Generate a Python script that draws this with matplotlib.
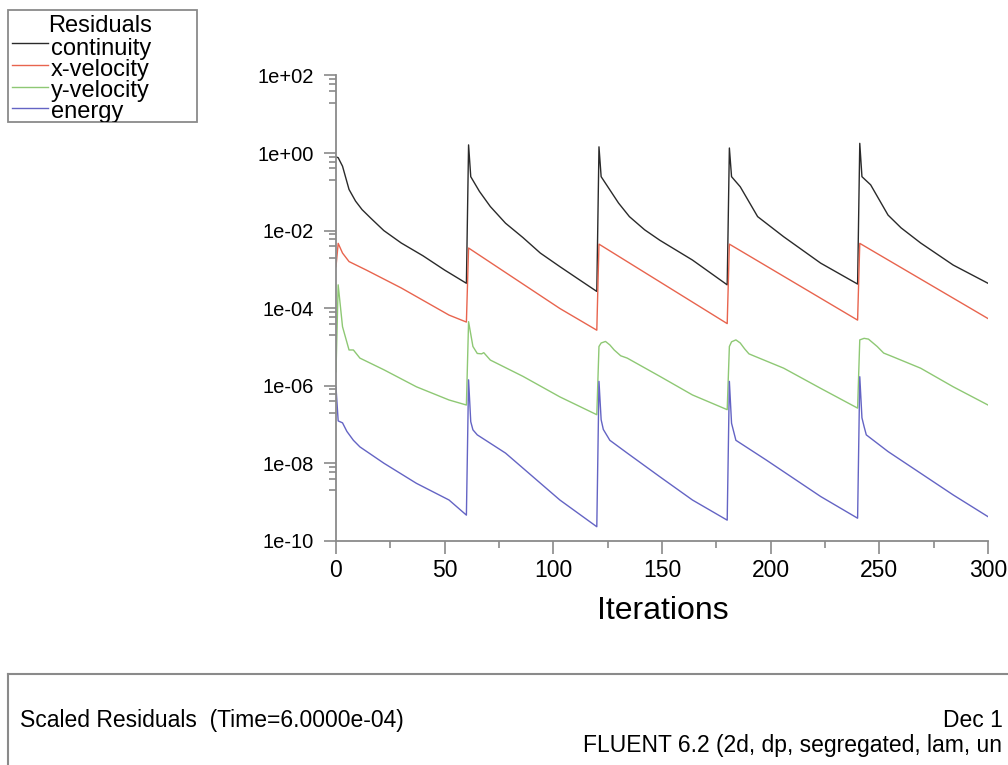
import numpy as np
import matplotlib
matplotlib.use("Agg")
import matplotlib.pyplot as plt
from matplotlib.patches import Rectangle
from matplotlib.lines import Line2D
from matplotlib.ticker import FixedLocator, NullFormatter

plt.rcParams['font.family'] = ['Liberation Sans', 'DejaVu Sans']

# residual histories, values are log10 of the scaled residual
cont_iter = [0, 1, 3, 6, 9, 12, 16, 22, 30, 40, 50, 60,
             61, 62, 66, 71, 78, 86, 94, 103, 112, 120,
             121, 122, 126, 130, 135, 142, 149, 164, 180,
             181, 182, 186, 194, 206, 223, 240,
             241, 242, 246, 254, 260, 269, 284, 300]
cont_exp = [-0.10, -0.12, -0.34, -0.94, -1.24, -1.46, -1.68, -2.00, -2.32, -2.65, -3.02, -3.36,
            0.21, -0.61, -0.99, -1.38, -1.81, -2.18, -2.58, -2.93, -3.27, -3.57,
            0.16, -0.61, -0.95, -1.29, -1.64, -1.98, -2.25, -2.76, -3.40,
            0.13, -0.61, -0.87, -1.64, -2.16, -2.84, -3.38,
            0.25, -0.61, -0.82, -1.60, -1.93, -2.32, -2.89, -3.36]

xvel_iter = [0, 1, 3, 6, 14, 30, 52, 60,
             61, 103, 120,
             121, 180,
             181, 240,
             241, 300]
xvel_exp = [-2.93, -2.33, -2.58, -2.80, -3.02, -3.48, -4.18, -4.36,
            -2.45, -4.01, -4.57,
            -2.35, -4.40,
            -2.35, -4.31,
            -2.33, -4.27]

yvel_iter = [0, 1, 3, 6, 8, 11, 22, 37, 52, 60,
             61, 63, 65, 67, 68, 71, 86, 103, 120,
             121, 122, 124, 126, 128, 131, 134, 149, 164, 180,
             181, 182, 184, 186, 188, 190, 193, 206, 223, 240,
             241, 243, 245, 249, 252, 256, 269, 284, 300]
yvel_exp = [-5.64, -3.40, -4.48, -5.08, -5.08, -5.29, -5.59, -6.03, -6.37, -6.50,
            -4.35, -4.99, -5.17, -5.18, -5.15, -5.34, -5.76, -6.29, -6.75,
            -4.99, -4.90, -4.86, -4.95, -5.08, -5.23, -5.29, -5.76, -6.24, -6.62,
            -4.99, -4.87, -4.82, -4.90, -5.05, -5.18, -5.25, -5.55, -6.07, -6.58,
            -4.82, -4.78, -4.80, -4.99, -5.16, -5.25, -5.55, -6.03, -6.50]

energy_iter = [0, 1, 3, 5, 8, 11, 22, 37, 52, 60,
               61, 62, 63, 65, 78, 103, 120,
               121, 122, 123, 126, 134, 149, 164, 180,
               181, 182, 184, 198, 223, 240,
               241, 242, 243, 244, 254, 269, 284, 300]
energy_exp = [-6.04, -6.91, -6.96, -7.18, -7.41, -7.58, -8.00, -8.52, -8.95, -9.34,
              -5.85, -6.93, -7.14, -7.27, -7.74, -8.95, -9.64,
              -5.89, -6.88, -7.13, -7.41, -7.74, -8.35, -8.95, -9.47,
              -5.89, -6.97, -7.41, -7.92, -8.86, -9.42,
              -5.77, -6.83, -7.06, -7.27, -7.70, -8.26, -8.82, -9.38]

series_names = ['continuity', 'x-velocity', 'y-velocity', 'energy']
series_colors = ['#2a2a2a', '#e8644e', '#8ec874', '#6464c4']

ytick_exps = [2, 0, -2, -4, -6, -8, -10]
ytick_labels = ['1e+02', '1e+00', '1e-02', '1e-04', '1e-06', '1e-08', '1e-10']
xticks = [0, 50, 100, 150, 200, 250, 300]

W, H = 1008, 765
GRAY = '#8a8a8a'

def fx(px):
    return px / W

def fy(py):
    return 1 - py / H

fig = plt.figure(figsize=(W / 100, H / 100), dpi=100)
fig.patch.set_facecolor('white')

ax = fig.add_axes([fx(336), fy(540.7), fx(988 - 336), (540.7 - 75.5) / H])
data = [(cont_iter, cont_exp), (xvel_iter, xvel_exp),
        (yvel_iter, yvel_exp), (energy_iter, energy_exp)]
for (it, ex), c in zip(data, series_colors):
    ax.plot(it, 10.0 ** np.array(ex), color=c, lw=1.0)

ax.set_yscale('log')
ax.set_xlim(0, 300)
ax.set_ylim(1e-10, 1e2)
ax.set_yticks([10.0 ** e for e in ytick_exps])
ax.set_yticklabels(ytick_labels)
minor_y = [m * 10.0 ** (e - 1) for e in ytick_exps[:-1] for m in (2, 4, 6, 8)]
ax.yaxis.set_minor_locator(FixedLocator(minor_y))
ax.yaxis.set_minor_formatter(NullFormatter())
ax.set_xticks(xticks)
ax.xaxis.set_minor_locator(FixedLocator([25, 75, 125, 175, 225, 275]))

for s in ['top', 'right']:
    ax.spines[s].set_visible(False)
for s in ['left', 'bottom']:
    ax.spines[s].set_color(GRAY)
    ax.spines[s].set_linewidth(1.3)

ax.tick_params(which='both', direction='out', color=GRAY, width=1.2)
ax.tick_params(which='major', length=9)
ax.tick_params(which='minor', length=5)
ax.tick_params(axis='y', which='major', labelsize=14.5, pad=7)
ax.tick_params(axis='x', which='major', labelsize=16.5, pad=4)

fig.text(fx(663), fy(619), 'Iterations', fontsize=23, ha='center', va='baseline')

# legend box
leg = Rectangle((fx(8), fy(122)), fx(197 - 8), (122 - 10) / H,
                transform=fig.transFigure, fill=False, ec=GRAY, lw=1.3)
fig.add_artist(leg)
fig.text(fx(48), fy(32), 'Residuals', fontsize=17, va='baseline')
line_y = [42.7, 65, 87, 108]
text_y = [55, 76, 97, 118]
for name, c, ly, ty in zip(series_names, series_colors, line_y, text_y):
    fig.add_artist(Line2D([fx(12), fx(48)], [fy(ly), fy(ly)],
                          transform=fig.transFigure, color=c, lw=1.0))
    t = fig.text(fx(51), fy(ty), name, fontsize=17, va='baseline')
    t.set_clip_path(leg)

# footer box
fig.add_artist(Line2D([fx(8), fx(8)], [fy(674), 0], transform=fig.transFigure,
                      color=GRAY, lw=1.5))
fig.add_artist(Line2D([fx(8), 1], [fy(674), fy(674)], transform=fig.transFigure,
                      color=GRAY, lw=1.5))
fig.text(fx(20), fy(727), 'Scaled Residuals  (Time=6.0000e-04)', fontsize=16.5, va='baseline')
fig.text(fx(1003), fy(727), 'Dec 1', fontsize=16.5, ha='right', va='baseline')
fig.text(fx(583), fy(752), 'FLUENT 6.2 (2d, dp, segregated, lam, un', fontsize=16.5, va='baseline')

fig.savefig('out.png', dpi=100, facecolor='white')
